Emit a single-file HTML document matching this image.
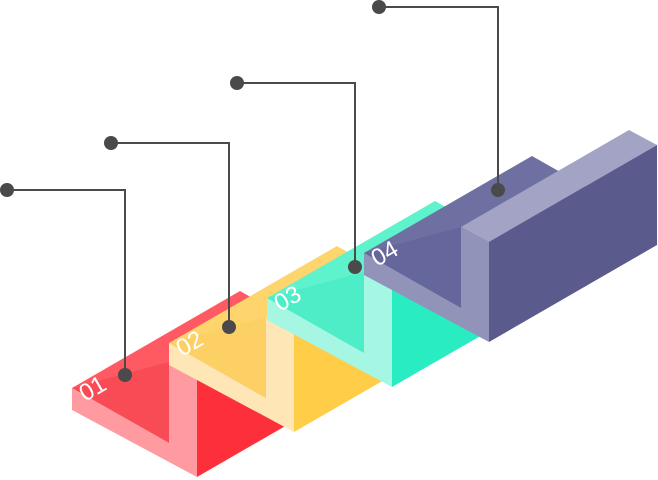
<!DOCTYPE html>
<html><head><meta charset="utf-8"><style>
html,body{margin:0;padding:0;background:#fff;}
svg{display:block;}
text{font-family:"Liberation Sans",sans-serif;font-size:24px;fill:#fff;}
</style></head><body>
<svg width="658" height="480" viewBox="0 0 658 480" xmlns="http://www.w3.org/2000/svg">
<!-- Block 1 red -->
<g transform="translate(72,388)">
<polygon points="0,0 168,-97 265,-42 97,55" fill="#ff5a63"/>
<polygon points="0,0 97,-26 97,55" fill="#f84b56"/>
<polygon points="97,-26 265,-123 293,-108 125,-11" fill="#ff8e95"/>
<polygon points="125,-11 293,-108 293,-8 125,89" fill="#fc2f3a"/>
<polygon points="0,0 97,55 97,-26 125,-11 125,89 0,22" fill="#ff9aa0"/>
<text transform="translate(13,14) rotate(-30)">01</text>
</g>
<!-- Block 2 yellow -->
<g transform="translate(169,343)">
<polygon points="0,0 168,-97 265,-42 97,55" fill="#fdd56c"/>
<polygon points="0,0 97,-26 97,55" fill="#fcd064"/>
<polygon points="97,-26 265,-123 293,-108 125,-11" fill="#ffe3a8"/>
<polygon points="125,-11 293,-108 293,-8 125,89" fill="#ffcd48"/>
<polygon points="0,0 97,55 97,-26 125,-11 125,89 0,22" fill="#ffe6b6"/>
<text transform="translate(13,14) rotate(-30)">02</text>
</g>
<!-- Block 3 teal -->
<g transform="translate(267,298)">
<polygon points="0,0 168,-97 265,-42 97,55" fill="#5ef2cd"/>
<polygon points="0,0 97,-26 97,55" fill="#4cedc7"/>
<polygon points="97,-26 265,-123 293,-108 125,-11" fill="#8ef5dc"/>
<polygon points="125,-11 293,-108 293,-8 125,89" fill="#2aecc3"/>
<polygon points="0,0 97,55 97,-26 125,-11 125,89 0,22" fill="#a5f7e4"/>
<text transform="translate(13,14) rotate(-30)">03</text>
</g>
<!-- Block 4 purple -->
<g transform="translate(364,253)">
<polygon points="0,0 168,-97 265,-42 97,55" fill="#6f70a2"/>
<polygon points="0,0 97,-26 97,55" fill="#65669b"/>
<polygon points="97,-26 265,-123 293,-108 125,-11" fill="#a3a4c5"/>
<polygon points="125,-11 293,-108 293,-8 125,89" fill="#5a5a8c"/>
<polygon points="0,0 97,55 97,-26 125,-11 125,89 0,22" fill="#9194b8"/>
<text transform="translate(13,14) rotate(-30)">04</text>
</g>
<g stroke="#4a4a4a" stroke-width="2" fill="none">
<polyline points="125,375 125,190 7,190"/>
<polyline points="229,327 229,143 111,143"/>
<polyline points="355,267 355,83 237,83"/>
<polyline points="498,190 498,7 379,7"/>
</g>
<g fill="#4a4a4a">
<circle cx="125" cy="375" r="7"/><circle cx="7" cy="190" r="7"/>
<circle cx="229" cy="327" r="7"/><circle cx="111" cy="143" r="7"/>
<circle cx="355" cy="267" r="7"/><circle cx="237" cy="83" r="7"/>
<circle cx="498" cy="190" r="7"/><circle cx="379" cy="7" r="7"/>
</g>
</svg>
</body></html>
